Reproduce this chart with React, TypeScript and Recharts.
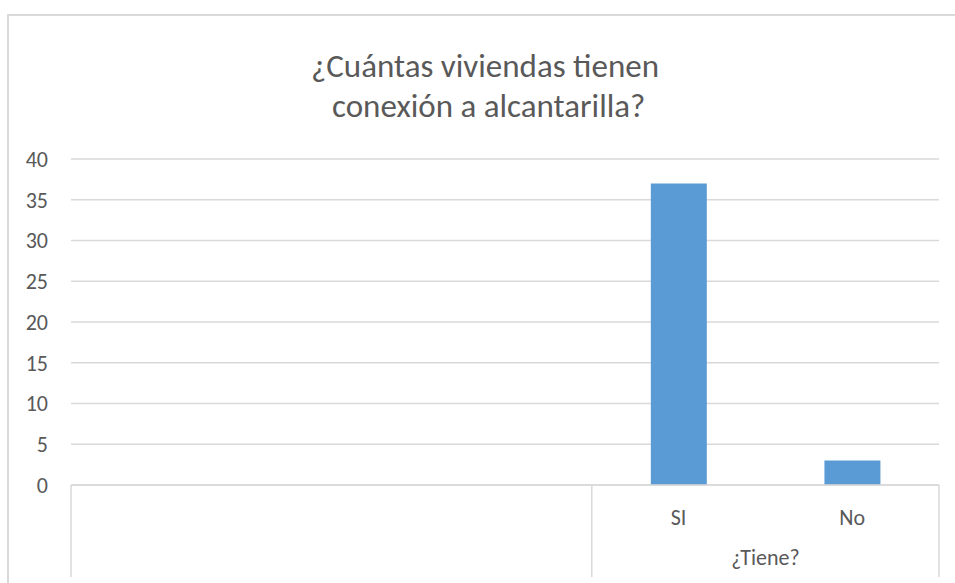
import React from 'react';
import { BarChart, Bar, XAxis, YAxis, CartesianGrid } from 'recharts';

const categories = ['', '', '', 'SI', 'No'];
const groups = ['', '', '', '¿Tiene?', '¿Tiene?'];
const values: (number | null)[] = [null, null, null, 37, 3];
const yTicks = [0, 5, 10, 15, 20, 25, 30, 35, 40];

const data = categories.map((name, i) => ({ key: `c${i}`, name, group: groups[i], value: values[i] }));

const FONT = 'Carlito, Calibri, Lato, sans-serif';
const TEXT = '#595959';
const LINE = '#D9D9D9';

const CategoryTick = (props: any) => {
  const { x, y, payload } = props;
  const i = payload.index;
  const off = payload.offset || 868 / categories.length / 2;
  const left = x - off;
  const first = i === 0 || groups[i - 1] !== groups[i];
  const last = i === categories.length - 1;
  let n = 0;
  if (first) {
    while (i + n < groups.length && groups[i + n] === groups[i]) n++;
  }
  return (
    <g>
      <text x={x} y={y + 32} textAnchor="middle" dominantBaseline="central" fill={TEXT} fontSize={22} fontFamily={FONT}>
        {categories[i]}
      </text>
      {first && <line x1={left} x2={left} y1={y} y2={y + 92} stroke={LINE} strokeWidth={1.5} />}
      {last && <line x1={x + off} x2={x + off} y1={y} y2={y + 92} stroke={LINE} strokeWidth={1.5} />}
      {first && groups[i] && (
        <text x={left + n * off} y={y + 72} textAnchor="middle" dominantBaseline="central" fill={TEXT} fontSize={22} fontFamily={FONT}>
          {groups[i]}
        </text>
      )}
    </g>
  );
};

export default function App() {
  return (
    <div style={{ position: 'absolute', left: 0, top: 0, width: 955, height: 583, overflow: 'hidden', background: '#fff' }}>
      <div
        style={{
          position: 'absolute',
          left: 7,
          top: 14,
          width: 960,
          height: 600,
          borderTop: `2px solid ${LINE}`,
          borderLeft: `2px solid ${LINE}`,
        }}
      />
      <div
        style={{
          position: 'absolute',
          left: 0,
          top: 46,
          width: 970,
          textAlign: 'center',
          fontFamily: FONT,
          fontSize: 33,
          lineHeight: '40px',
          color: TEXT,
        }}
      >
        ¿Cuántas viviendas tienen
        <br />
        &nbsp;conexión a alcantarilla?
      </div>
      <BarChart
        width={955}
        height={583}
        data={data}
        margin={{ top: 159, right: 16, bottom: 0, left: 0 }}
        barCategoryGap="34%"
        style={{ position: 'absolute', left: 0, top: 0 }}
      >
        <CartesianGrid vertical={false} stroke={LINE} strokeWidth={1.5} />
        <XAxis
          dataKey="key"
          height={98}
          axisLine={{ stroke: LINE, strokeWidth: 1.5 }}
          tickLine={false}
          tickSize={0}
          tickMargin={0}
          interval={0}
          tick={<CategoryTick />}
        />
        <YAxis
          width={71}
          domain={[0, 40]}
          ticks={yTicks}
          axisLine={false}
          tickLine={false}
          tickSize={0}
          tickMargin={23}
          tick={{ fill: TEXT, fontSize: 22, fontFamily: FONT }}
        />
        <Bar dataKey="value" fill="#5B9BD5" isAnimationActive={false} />
      </BarChart>
    </div>
  );
}
